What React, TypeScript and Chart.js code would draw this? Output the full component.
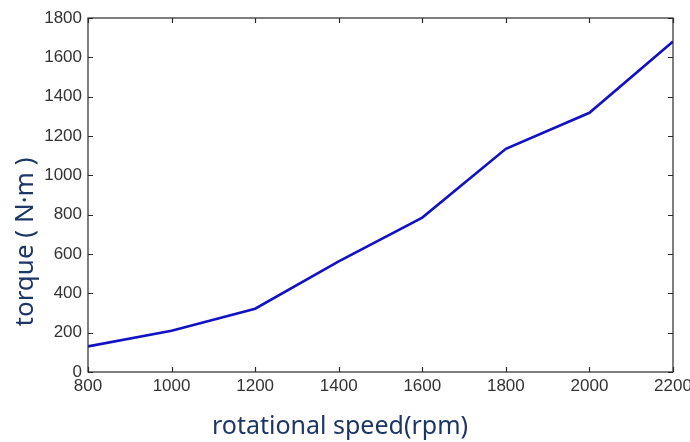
import React, { useEffect, useRef } from "react";
import { Chart, registerables } from "chart.js";

Chart.register(...registerables);

const speeds = [800, 1000, 1200, 1400, 1600, 1800, 2000, 2200];
const torque = [130, 210, 322, 562, 785, 1135, 1318, 1680];
const xTitle = "rotational speed(rpm)";
const yTitle = "torque ( N·m )";

const boxPlugin = {
  id: "matlabBox",
  afterDraw(chart: any) {
    const { ctx, chartArea: a, scales } = chart;
    const xs = scales.x;
    const ys = scales.y;
    ctx.save();
    ctx.strokeStyle = "#2a2a2a";
    ctx.lineWidth = 1.2;
    ctx.strokeRect(a.left, a.top, a.right - a.left, a.bottom - a.top);
    const L = 5;
    ctx.beginPath();
    xs.ticks.forEach((t: any) => {
      const px = Math.round(xs.getPixelForValue(t.value)) + 0.5;
      ctx.moveTo(px, a.bottom);
      ctx.lineTo(px, a.bottom - L);
      ctx.moveTo(px, a.top);
      ctx.lineTo(px, a.top + L);
    });
    ys.ticks.forEach((t: any) => {
      const py = Math.round(ys.getPixelForValue(t.value)) + 0.5;
      ctx.moveTo(a.left, py);
      ctx.lineTo(a.left + L, py);
      ctx.moveTo(a.right, py);
      ctx.lineTo(a.right - L, py);
    });
    ctx.stroke();
    // axis titles
    ctx.fillStyle = "#1c3766";
    ctx.textAlign = "center";
    ctx.textBaseline = "middle";
    ctx.font = "25px 'Noto Sans'";
    ctx.fillText(xTitle, 340, 427);
    ctx.font = "26px 'Noto Sans'";
    ctx.translate(26, 242);
    ctx.rotate(-Math.PI / 2);
    ctx.fillText(yTitle, 0, 0);
    ctx.restore();
  },
};

export default function App() {
  const ref = useRef<HTMLCanvasElement>(null);
  useEffect(() => {
    const chart = new Chart(ref.current!, {
      type: "line",
      data: {
        datasets: [
          {
            data: speeds.map((s, i) => ({ x: s, y: torque[i] })),
            borderColor: "#1212c4",
            borderWidth: 2.6,
            pointRadius: 0,
            tension: 0,
            fill: false,
          },
        ],
      },
      options: {
        animation: false,
        responsive: false,
        maintainAspectRatio: false,
        layout: { padding: { top: 18, right: 17, left: 0, bottom: 0 } },
        plugins: { legend: { display: false }, tooltip: { enabled: false } },
        scales: {
          x: {
            type: "linear",
            min: 800,
            max: 2200,
            grid: { display: false, drawTicks: false },
            border: { display: false },
            ticks: {
              stepSize: 200,
              padding: 4,
              color: "#333",
              font: { family: "'Liberation Sans', Arial", size: 17 },
              maxRotation: 0,
              callback: (v: any) => String(v),
            },
            afterFit(scale: any) {
              scale.height = 70;
              scale.paddingLeft = 0;
              scale.paddingRight = 0;
            },
          },
          y: {
            min: 0,
            max: 1800,
            grid: { display: false, drawTicks: false },
            border: { display: false },
            ticks: {
              stepSize: 200,
              padding: 6,
              color: "#333",
              font: { family: "'Liberation Sans', Arial", size: 17 },
              callback: (v: any) => String(v),
            },
            afterFit(scale: any) {
              scale.width = 88;
              scale.paddingTop = 0;
              scale.paddingBottom = 0;
            },
          },
        },
      },
      plugins: [boxPlugin],
    } as any);
    return () => chart.destroy();
  }, []);
  return (
    <div style={{ position: "absolute", left: 0, top: 0, width: 690, height: 442, background: "#fff" }}>
      <canvas ref={ref} width={690} height={442} style={{ width: 690, height: 442 }} />
    </div>
  );
}
